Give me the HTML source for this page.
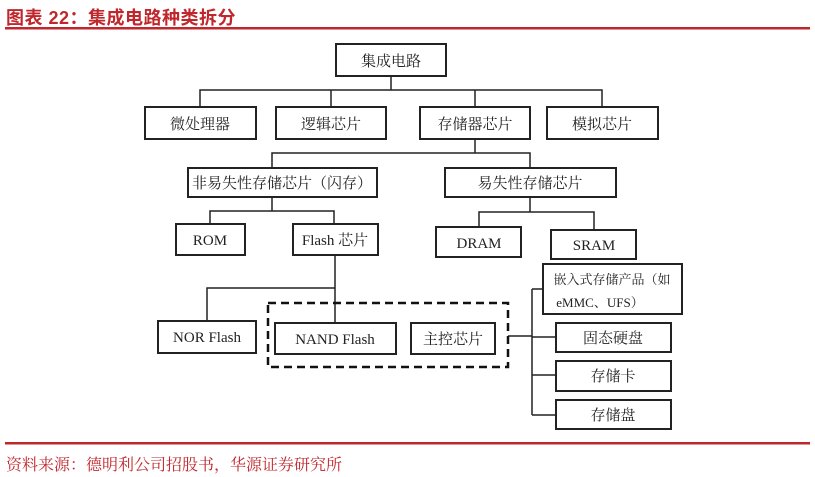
<!DOCTYPE html>
<html><head><meta charset="utf-8"><style>
body{margin:0;width:815px;height:477px;background:#fff;overflow:hidden;position:relative;font-family:"Liberation Serif","Noto Serif CJK SC",serif}
.t{position:absolute;left:6px;top:4px;font:bold 18px "Liberation Sans","Noto Sans CJK SC",sans-serif;color:#c0272d;letter-spacing:0.5px}
.s{position:absolute;left:6px;top:452px;font:16px "Liberation Serif","Noto Serif CJK SC",serif;color:#c0272d}
</style></head><body>
<div class="t">图表 22：集成电路种类拆分</div>
<svg width="815" height="477" style="position:absolute;left:0;top:0">
<rect x="5" y="27" width="805" height="2.5" fill="#c0272d"/>
<rect x="5" y="442" width="805" height="2.5" fill="#c0272d"/>
<g stroke="#222" stroke-width="1.5" fill="none">
<path d="M391 76V90M200 107V90H602V107M331 90V107M475 90V107"/>
<path d="M475 139V153M272 168V153H530V168"/>
<path d="M272 197V211M210 224V211H334V224"/>
<path d="M530 197V212M479 227V212H594V230"/>
<path d="M335 255V323M207 321V288H335"/>
<path d="M508 336H532M532 289V415M532 289H543M532 337H556M532 375H556M532 415H556"/>
</g>
<g stroke="#222" stroke-width="2" fill="#fff">
<rect x="336" y="44" width="110" height="32"/>
<rect x="145" y="107" width="111" height="32"/>
<rect x="276" y="107" width="110" height="32"/>
<rect x="420" y="107" width="110" height="32"/>
<rect x="547" y="107" width="111" height="32"/>
<rect x="188" y="168" width="189" height="29"/>
<rect x="445" y="168" width="171" height="29"/>
<rect x="176" y="224" width="69" height="31"/>
<rect x="293" y="224" width="85" height="31"/>
<rect x="436" y="227" width="85" height="30"/>
<rect x="551" y="230" width="85" height="29"/>
<rect x="158" y="321" width="98" height="32"/>
<rect x="275" y="323" width="121" height="31"/>
<rect x="411" y="323" width="84" height="31"/>
<rect x="543" y="264" width="139" height="50"/>
<rect x="556" y="323" width="115" height="29"/>
<rect x="556" y="361" width="115" height="30"/>
<rect x="556" y="400" width="115" height="29"/>
</g>
<rect x="268" y="303" width="240" height="64" fill="none" stroke="#111" stroke-width="2.5" stroke-dasharray="8,5"/>
<g font-family="Liberation Serif,Noto Serif CJK SC,serif" font-size="15" fill="#222" text-anchor="middle">
<text x="391" y="66">集成电路</text>
<text x="200" y="129">微处理器</text>
<text x="331" y="129">逻辑芯片</text>
<text x="475" y="129">存储器芯片</text>
<text x="602" y="129">模拟芯片</text>
<text x="282" y="188">非易失性存储芯片（闪存）</text>
<text x="530" y="188">易失性存储芯片</text>
<text x="210" y="245">ROM</text>
<text x="335" y="245">Flash 芯片</text>
<text x="479" y="248">DRAM</text>
<text x="594" y="250">SRAM</text>
<text x="207" y="342">NOR Flash</text>
<text x="335" y="344">NAND Flash</text>
<text x="453" y="344">主控芯片</text>
<text x="612" y="284" font-size="13">嵌入式存储产品（如</text>
<text x="600" y="307" font-size="13">eMMC、UFS）</text>
<text x="613" y="343">固态硬盘</text>
<text x="613" y="381">存储卡</text>
<text x="613" y="420">存储盘</text>
</g>
</svg>
<div class="s">资料来源：德明利公司招股书，华源证券研究所</div>
</body></html>
